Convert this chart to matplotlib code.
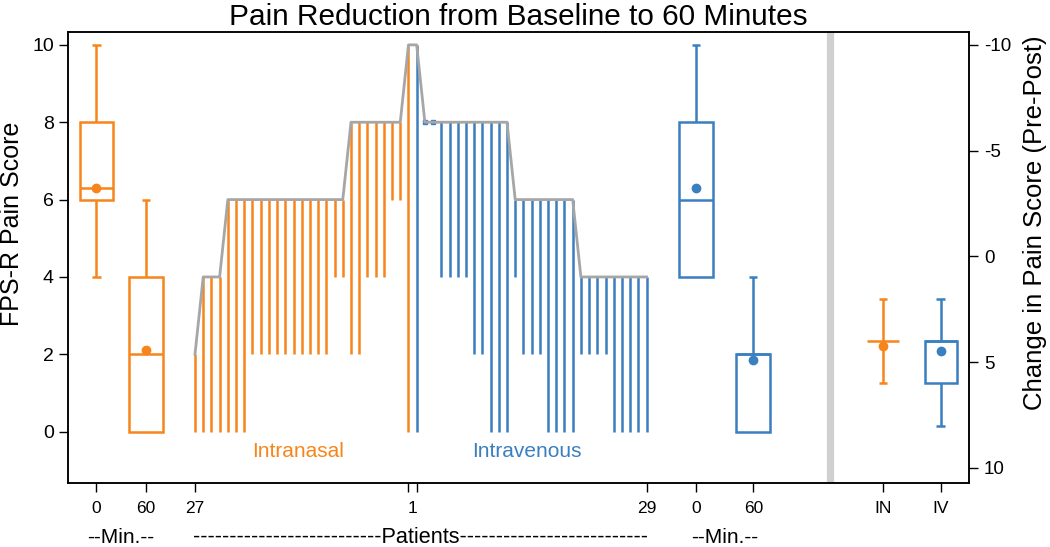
import numpy as np
import matplotlib
matplotlib.use("Agg")
import matplotlib.pyplot as plt
from matplotlib.patches import Rectangle
from matplotlib.transforms import blended_transform_factory

plt.rcParams["font.family"] = ["Liberation Sans", "DejaVu Sans"]
plt.rcParams["axes.unicode_minus"] = False

ORANGE = "#F7851B"
BLUE = "#3A7FBF"
GRAY = "#A6A6A6"

# box stats: [whisker_lo, q1, median, q3, whisker_hi, mean]
in_0 = [4, 6, 6.3, 8, 10, 6.3]
in_60 = [0, 0, 2, 4, 6, 2.1]
iv_0 = [4, 4, 6, 8, 10, 6.3]
iv_60 = [0, 0, 2, 2, 4, 1.85]
# change in pain score (pre - post), right axis
in_change = [2, 4, 4, 4, 6, 4.25]
iv_change = [2, 4, 4, 6, 8, 4.45]

# per patient pre / post scores, ordered as drawn (IN: patient 27 -> 1, IV: patient 1 -> 29)
in_pre = [2, 4, 4, 4, 6, 6, 6, 6, 6, 6, 6, 6, 6, 6, 6, 6, 6, 6, 6,
          8, 8, 8, 8, 8, 8, 8, 10]
in_post = [0, 0, 0, 0, 0, 0, 0, 2, 2, 2, 2, 2, 2, 2, 2, 2, 2, 4, 4,
           2, 2, 4, 4, 4, 6, 6, 0]
iv_pre = [10, 8, 8, 8, 8, 8, 8, 8, 8, 8, 8, 8, 6, 6, 6, 6, 6, 6, 6, 6,
          4, 4, 4, 4, 4, 4, 4, 4, 4]
iv_post = [0, 8, 8, 4, 4, 4, 4, 2, 2, 0, 0, 0, 4, 2, 2, 2, 0, 0, 0, 0,
           2, 2, 2, 2, 0, 0, 0, 0, 0]

# layout on the x axis (one unit = one patient slot)
x_in = np.arange(len(in_pre))
x_iv = np.arange(len(iv_pre)) + len(in_pre)
pos_in0, pos_in60 = -12, -6
pos_iv0, pos_iv60 = 61, 68
pos_sep = 77.3
pos_IN, pos_IV = 83.8, 90.8
BOXW = 4.1
LW = 1.8

fig = plt.figure(figsize=(10.5, 5.47), dpi=100)
ax = fig.add_axes([0.0645, 0.1175, 0.8586, 0.8231])
ax2 = ax.twinx()


def draw_box(a, x, st, color, w=BOXW):
    lo, q1, med, q3, hi, mean = st
    if q3 > q1:
        a.add_patch(Rectangle((x - w / 2, q1), w, q3 - q1, fill=False,
                              edgecolor=color, lw=LW, zorder=3))
    a.hlines(med, x - w / 2, x + w / 2, color=color, lw=LW, zorder=3)
    if hi > q3:
        a.vlines(x, q3, hi, color=color, lw=LW, zorder=3)
        a.hlines(hi, x - 0.5, x + 0.5, color=color, lw=LW, zorder=3)
    if lo < q1:
        a.vlines(x, lo, q1, color=color, lw=LW, zorder=3)
        a.hlines(lo, x - 0.5, x + 0.5, color=color, lw=LW, zorder=3)
    a.plot([x], [mean], "o", color=color, ms=6, zorder=4)


draw_box(ax, pos_in0, in_0, ORANGE)
draw_box(ax, pos_in60, in_60, ORANGE)
draw_box(ax, pos_iv0, iv_0, BLUE)
draw_box(ax, pos_iv60, iv_60, BLUE)
draw_box(ax2, pos_IN, in_change, ORANGE, w=3.9)
draw_box(ax2, pos_IV, iv_change, BLUE, w=3.9)

# patient bars
for xs, pre, post, color in [(x_in, in_pre, in_post, ORANGE), (x_iv, iv_pre, iv_post, BLUE)]:
    pre = np.array(pre)
    post = np.array(post)
    moved = pre != post
    ax.vlines(xs[moved], post[moved], pre[moved], color=color, lw=LW,
              capstyle="butt", zorder=2)
    ax.plot(xs[~moved], pre[~moved], "s", color=color, ms=2.5, zorder=2)

ax.plot(np.concatenate([x_in, x_iv]), in_pre + iv_pre, color=GRAY, lw=2, zorder=3)

ax.axvline(pos_sep, color="#D0D0D0", lw=5.2, zorder=1)

ax.text(12.6, -0.52, "Intranasal", color=ORANGE, fontsize=15, ha="center", va="center")
ax.text(40.4, -0.52, "Intravenous", color=BLUE, fontsize=15, ha="center", va="center")

ax.set_xlim(-15.5, 94.3)
ax.set_ylim(-1.32, 10.32)
ax2.set_ylim(10.7, -10.59)

ax.set_yticks([0, 2, 4, 6, 8, 10])
ax2.set_yticks([-10, -5, 0, 5, 10])
ax.tick_params(axis="y", labelsize=14, length=6.5, width=1, pad=3.5)
ax2.tick_params(axis="y", labelsize=13.5, length=6.5, width=1, pad=4)

xt = [pos_in0, pos_in60, x_in[0], x_in[-1], x_iv[0], x_iv[-1], pos_iv0, pos_iv60, pos_IN, pos_IV]
xl = ["0", "60", "27", "", "", "29", "0", "60", "IN", "IV"]
ax.set_xticks(xt, xl)
ax.set_xticks([(x_in[-1] + x_iv[0]) / 2], ["1"], minor=True)
ax.tick_params(axis="x", which="major", labelsize=12.5, length=6.5, width=1, pad=7)
ax.tick_params(axis="x", which="minor", labelsize=12.5, length=0, pad=13.5)

for a in (ax, ax2):
    for s in a.spines.values():
        s.set_linewidth(1.1)

trans = blended_transform_factory(ax.transData, ax.transAxes)
ax.text((pos_in0 + pos_in60) / 2, -0.122, "--Min.--", transform=trans, fontsize=15,
        ha="center", va="center")
ax.text((pos_iv0 + pos_iv60) / 2, -0.122, "--Min.--", transform=trans, fontsize=15,
        ha="center", va="center")
ax.text((x_in[0] + x_iv[-1]) / 2, -0.122,
        "-" * 26 + "Patients" + "-" * 26, transform=trans, fontsize=15.6,
        ha="center", va="center")

fig.text(0.4938, 1 - 17 / 547, "Pain Reduction from Baseline to 60 Minutes",
         fontsize=21.4, ha="center", va="center")
fig.text(0.0, 1 - 223.5 / 547, "FPS-R Pain Score", fontsize=18,
         rotation=90, ha="left", va="center")
fig.text(1035 / 1050, 1 - 222.5 / 547, "Change in Pain Score (Pre-Post)", fontsize=18.5,
         rotation=90, ha="center", va="center")

fig.savefig("out.png", dpi=100)
